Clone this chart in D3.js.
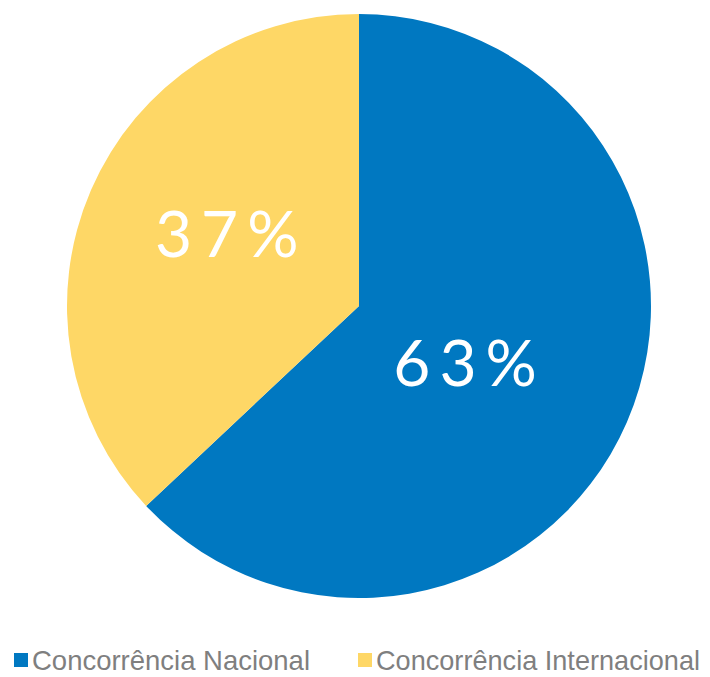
<!DOCTYPE html>
<html>
<head>
<meta charset="utf-8">
<script src="https://cdn.jsdelivr.net/npm/d3@7"></script>
<style>
  html, body { margin: 0; padding: 0; background: #fff; }
  svg { display: block; }
</style>
</head>
<body>
<svg id="chart" width="710" height="677"></svg>
<script>
// Share of competition by origin
const categories = ["Concorrência Nacional", "Concorrência Internacional"];
const values = [63, 37];
const labels = ["63%", "37%"];
const colors = ["#0078C1", "#FED766"];

const svg = d3.select("#chart");
const cx = 359, cy = 306, radius = 292;

const pie = d3.pie().sort(null).value(d => d)
  .startAngle(0).endAngle(2 * Math.PI);
const arcs = pie(values);
const arc = d3.arc().innerRadius(0).outerRadius(radius);

const g = svg.append("g").attr("transform", `translate(${cx},${cy})`);

g.selectAll("path.slice")
  .data(arcs)
  .join("path")
  .attr("class", "slice")
  .attr("d", arc)
  .attr("fill", (d, i) => colors[i]);

// Percent labels placed along each slice's bisector
const labelDist = [120, 151];
const capHalf = 23;
g.selectAll("text.pct")
  .data(arcs)
  .join("text")
  .attr("class", "pct")
  .each(function (d, i) {
    const a = (d.startAngle + d.endAngle) / 2 + 5 * Math.PI / 180;
    const x = Math.sin(a) * labelDist[i];
    const y = -Math.cos(a) * labelDist[i];
    d3.select(this)
      .attr("x", x + 5)
      .attr("y", y + capHalf);
  })
  .attr("text-anchor", "middle")
  .attr("fill", "#fff")
  .attr("font-family", "Lato, 'Open Sans', sans-serif")
  .attr("font-weight", 400)
  .attr("font-size", 64)
  .attr("letter-spacing", 9)
  .text((d, i) => labels[i]);

// Legend
const legendX = [14, 358];
const legendW = [278, 324];
const legend = svg.append("g");
const item = legend.selectAll("g.item")
  .data(categories)
  .join("g")
  .attr("class", "item")
  .attr("transform", (d, i) => `translate(${legendX[i]},653)`);

item.append("rect")
  .attr("width", 14).attr("height", 14)
  .attr("fill", (d, i) => colors[i]);

item.append("text")
  .attr("x", 18)
  .attr("y", 17)
  .attr("fill", "#7F7F7F")
  .attr("font-family", "'Liberation Sans', Arial, sans-serif")
  .attr("font-size", 28)
  .attr("textLength", (d, i) => legendW[i])
  .attr("lengthAdjust", "spacingAndGlyphs")
  .text(d => d);
</script>
</body>
</html>
